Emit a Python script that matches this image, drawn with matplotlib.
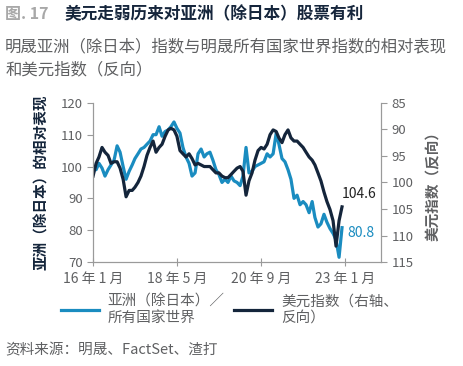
import numpy as np
import pandas as pd
import matplotlib
matplotlib.use("Agg")
import matplotlib.pyplot as plt
import matplotlib.dates as mdates
from matplotlib.lines import Line2D

plt.rcParams['font.family'] = ['Noto Sans CJK SC', 'DejaVu Sans']

# monthly data, Jan 2016 .. Dec 2022
dates = pd.date_range("2016-01-01", periods=84, freq="MS")

asia_rel = [100, 99, 101, 99.5, 97, 99, 100.5, 102, 106.5, 104.5,
            100, 96, 98.5, 100.5, 102.5, 104, 105.5, 106, 107, 108,
            110, 110, 112.5, 109.5, 111, 111.5, 112.5, 114, 112, 110.5,
            106, 103, 101, 97, 98, 104, 105.5, 103, 104, 104.5,
            102, 99, 97.5, 95, 96, 95, 97, 95.5, 95, 94,
            97, 106, 98, 98.5, 100, 100.5, 101, 101.5, 104, 103,
            104, 110.5, 107, 102.5, 101.5, 99, 96, 90, 91, 88,
            89, 88, 85.5, 89, 84, 81, 82, 85, 82.5, 80.5,
            79, 77, 71.5, 80.8]

dxy = [98.8, 96.4, 95.2, 93.4, 94.3, 94.9, 96.4, 96.1, 96.1, 97.3,
       99.4, 102.7, 101.5, 101.5, 100.9, 100.0, 98.8, 97.0, 94.9, 93.4,
       92.2, 94.3, 93.4, 92.8, 91.3, 90.1, 89.8, 90.1, 91.3, 94.0,
       94.6, 95.2, 94.6, 95.5, 96.7, 96.4, 96.7, 97.0, 97.0, 97.0,
       97.6, 98.2, 98.2, 98.8, 99.1, 99.1, 98.5, 97.9, 97.3, 97.0,
       97.9, 102.4, 99.7, 98.2, 95.8, 94.0, 93.4, 93.7, 92.8, 91.0,
       90.1, 90.4, 91.6, 92.5, 91.0, 90.1, 91.6, 92.2, 92.2, 92.8,
       93.4, 94.3, 95.2, 95.8, 96.7, 98.2, 99.7, 101.8, 103.6, 105.1,
       107.2, 112.0, 107.2, 104.6]

xtick_dates = pd.to_datetime(["2016-01-01", "2018-05-01", "2020-09-01", "2023-01-01"])
xtick_labels = ["16 年 1 月", "18 年 5 月", "20 年 9 月", "23 年 1 月"]
left_ticks = [70, 80, 90, 100, 110, 120]
right_ticks = [85, 90, 95, 100, 105, 110, 115]

blue = "#1a8cc0"
navy = "#14253b"
grey = "#5f6062"
axis_grey = "#9a9a9a"

fig = plt.figure(figsize=(4.63, 3.66), dpi=100)
ax = fig.add_axes([0.201, 0.284, 0.622, 0.435])
ax2 = ax.twinx()

ax.plot(dates, asia_rel, color=blue, lw=2.3)
ax2.plot(dates, dxy, color=navy, lw=2.3)

ax.set_ylim(70, 120)
ax.set_yticks(left_ticks)
ax2.set_ylim(115, 85)
ax2.set_yticks(right_ticks)
ax.set_xlim(pd.Timestamp("2016-01-01"), pd.Timestamp("2024-01-01"))
ax.set_xticks(xtick_dates)
ax.set_xticklabels(xtick_labels)

for a in (ax, ax2):
    for s in a.spines.values():
        s.set_color(axis_grey)
        s.set_linewidth(0.8)
    a.spines['top'].set_visible(False)
    a.tick_params(colors=axis_grey, labelcolor=grey, labelsize=9.5, length=4, width=0.8)
ax.tick_params(axis='x', direction='inout', length=6, pad=4, labelsize=10)

ax.set_ylabel("亚洲（除日本）的相对表现", color=navy, fontsize=10.5,
              fontweight='bold', labelpad=8)
ax2.set_ylabel("美元指数（反向）", color=grey, fontsize=10.5,
               fontweight='bold', labelpad=8)

# end value labels
ax2.annotate(f"{dxy[-1]:.1f}", (dates[-1], dxy[-1]), xytext=(0, 9),
             textcoords='offset points', ha='left', va='center',
             color="#222222", fontsize=10)
ax.annotate(f"{asia_rel[-1]:.1f}", (dates[-1], asia_rel[-1]), xytext=(4, -4),
            textcoords='offset points', ha='left', va='center',
            color=blue, fontsize=10)

# titles
fig.text(0.011, 0.962, "图. 17", color="#a8a8a8", fontsize=11.5,
         fontweight='bold', va='center')
fig.text(0.14, 0.962, "美元走弱历来对亚洲（除日本）股票有利", color="#16263c",
         fontsize=12, fontweight='bold', va='center')
fig.text(0.011, 0.872, "明晟亚洲（除日本）指数与明晟所有国家世界指数的相对表现",
         color=grey, fontsize=11.8, va='center')
fig.text(0.011, 0.81, "和美元指数（反向）", color=grey, fontsize=11.8, va='center')

# legend
handles = [Line2D([], [], color=blue, lw=2.3), Line2D([], [], color=navy, lw=2.3)]
labels = ["亚洲（除日本）／\n所有国家世界", "美元指数（右轴、\n反向）"]
fig.legend(handles, labels, loc='upper left', bbox_to_anchor=(0.132, 0.195),
           ncol=2, frameon=False, fontsize=10.5, labelcolor=grey,
           handlelength=2.6, columnspacing=0.65, handletextpad=0.6,
           borderaxespad=0, borderpad=0)

fig.text(0.011, 0.044, "资料来源：明晟、FactSet、渣打", color=grey, fontsize=10.5,
         va='center')

fig.savefig("out.png", dpi=100)
